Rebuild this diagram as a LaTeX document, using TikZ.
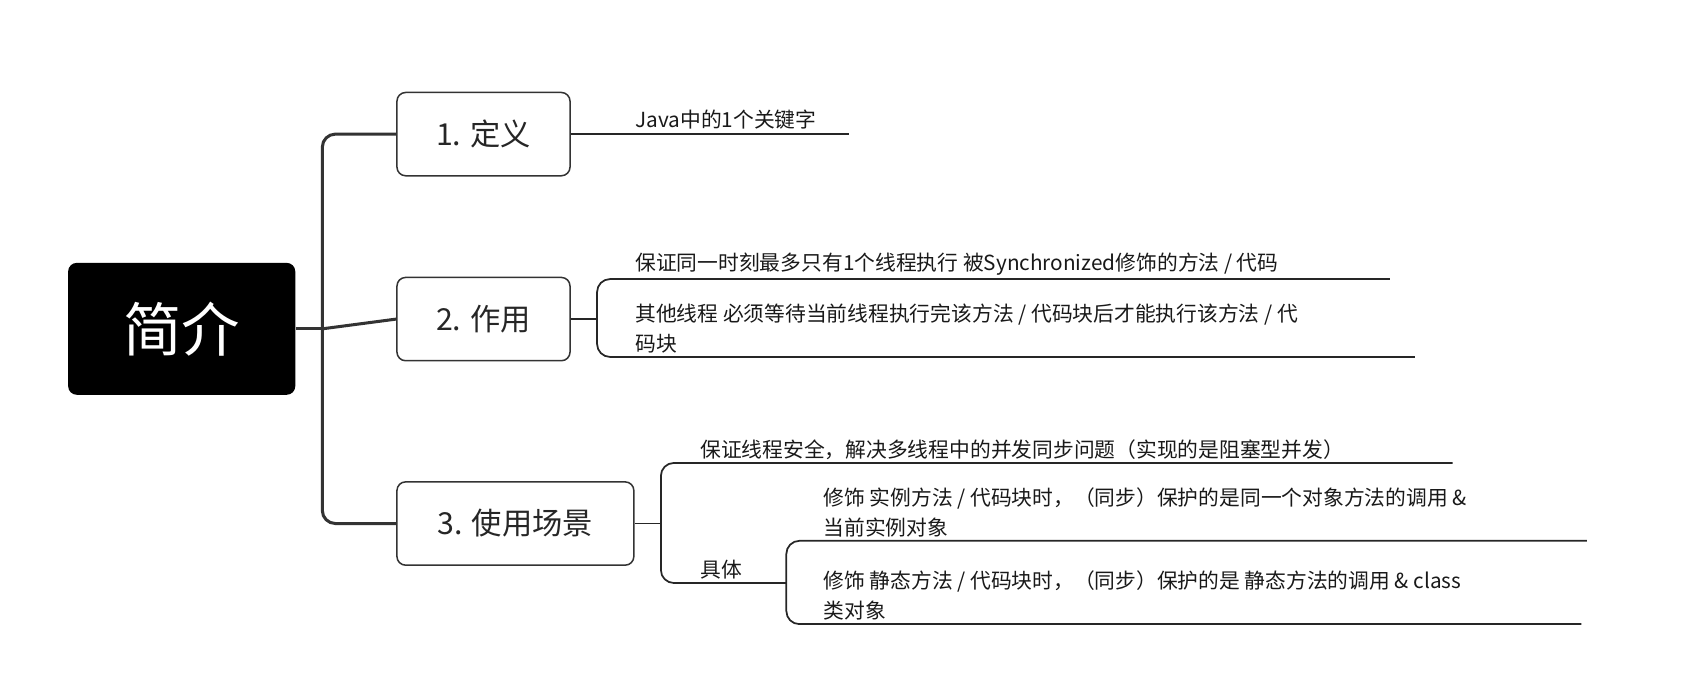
\documentclass[tikz,border=0pt]{standalone}
\usepackage{fontspec}
\setmainfont{Noto Sans CJK SC}
\begin{document}
\begin{tikzpicture}[x=0.5pt,y=-0.5pt,
  box/.style={draw=black!80,line width=0.7pt,rounded corners=4pt,fill=white,inner sep=0pt,font=\fontsize{14}{16}\selectfont,text=black!85},
  txt/.style={anchor=south west,inner sep=0pt,align=left,font=\fontsize{9.6}{14}\selectfont,text=black!90},
  ln/.style={line width=0.8pt,draw=black!85},
  trunk/.style={line width=1.4pt,draw=black!80,rounded corners=6pt}]
\useasboundingbox (0,0) rectangle (1568,632);
\node[fill=black,rounded corners=4pt,minimum width=105pt,minimum height=61pt,text=white,font=\fontsize{27}{30}\selectfont] (root) at (168,304) {简介};
\node[box,minimum width=80pt,minimum height=38.5pt] (b1) at (447,124) {1. 定义};
\node[box,minimum width=80pt,minimum height=38.5pt] (b2) at (447,295) {2. 作用};
\node[box,minimum width=109.5pt,minimum height=38.5pt] (b3) at (476.5,484) {3. 使用场景};
\coordinate (t) at (298,304);
\draw[trunk] (root.east) -- (t);
\draw[trunk] (b1.west) -| (t) |- (b3.west);
\draw[trunk] (t) -- (b2.west);
% branch 1
\node[txt] (d1) at (587,120) {Java中的1个关键字};
\coordinate (e1) at (785,124);
\draw[ln] (b1.east) -- (e1);
% branch 2
\node[txt] (d2a) at (587,255) {保证同一时刻最多只有1个线程执行 被Synchronized修饰的方法 / 代码};
\node[txt] (d2b) at (587,327) {其他线程 必须等待当前线程执行完该方法 / 代码块后才能执行该方法 / 代\\码块};
\coordinate (j2) at (552,295);
\coordinate (e2a) at (1285,258);
\coordinate (e2b) at (1308,330);
\draw[ln] (b2.east) -- (j2);
\draw[ln,rounded corners=6pt] (e2a) -- (552,258) -- (552,330) -- (e2b);
% branch 3
\node[txt] (d3a) at (647,425) {保证线程安全，解决多线程中的并发同步问题（实现的是阻塞型并发）};
\node[txt] (d3b) at (647,536) {具体};
\coordinate (j3) at (611,484);
\coordinate (e3a) at (1343,428);
\coordinate (k3) at (727,539);
\draw[ln] (b3.east) -- (j3);
\draw[ln,rounded corners=6pt] (e3a) -- (611,428) -- (611,539) -- (k3);
\node[txt] (d4a) at (761,497) {修饰 实例方法 / 代码块时，（同步）保护的是同一个对象方法的调用 \&\\当前实例对象};
\node[txt] (d4b) at (761,574) {修饰 静态方法 / 代码块时，（同步）保护的是 静态方法的调用 \& class\\类对象};
\coordinate (e4a) at (1467,500);
\coordinate (e4b) at (1462,577);
\draw[ln,rounded corners=6pt] (e4a) -- (727,500) -- (727,577) -- (e4b);
\end{tikzpicture}
\end{document}
